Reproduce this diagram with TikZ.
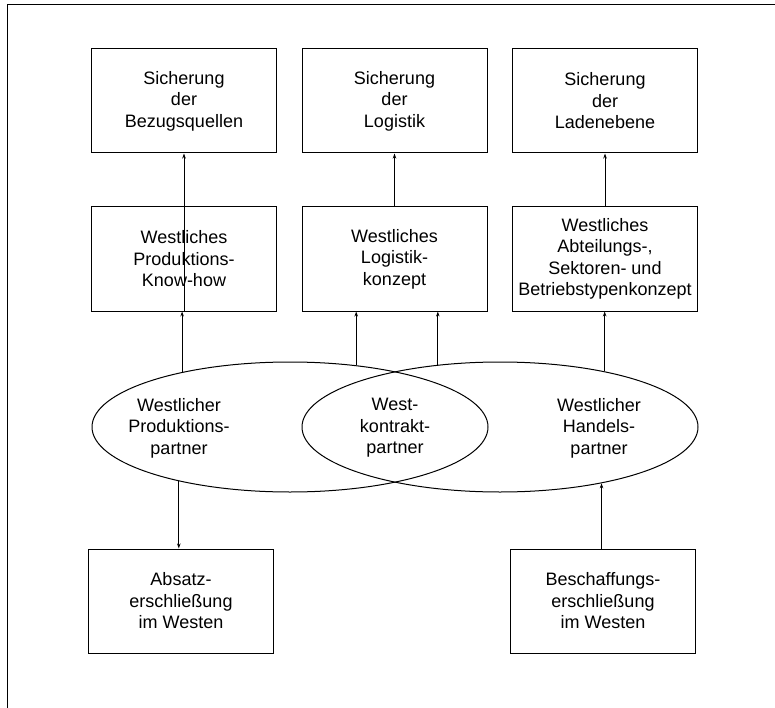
\documentclass[tikz,border=0pt]{standalone}
\usepackage{fontspec}
\setmainfont{Liberation Sans}
\usetikzlibrary{shapes,shapes.geometric,arrows.meta}

\begin{document}
\begin{tikzpicture}[x=1pt,y=-1pt]
				\tikzstyle{every node}=[font=\fontsize{18}{21.5}\selectfont, align=center]
				\tikzstyle{bbox}=[rectangle, draw, line width=1pt, minimum width=185, minimum height=104, inner sep=0]
				\tikzstyle{ell}=[ellipse, draw, line width=1pt, minimum width=396, minimum height=130, inner sep=0]
				\tikzstyle{pfeil}=[line width=0.9pt, -{Stealth[length=5pt,width=3.5pt]}]
				\useasboundingbox (0,0) rectangle (775,708);
				\draw[line width=1pt] (775,5) -- (7,5) -- (7,708);
				% obere Reihe
				\node[bbox] (bezug) at (184,101) {Sicherung\\der\\Bezugsquellen};
				\node[bbox] (logistik) at (394.5,101) {Sicherung\\der\\Logistik};
				\node[bbox] (laden) at (605,101) {Sicherung\\der\\Ladenebene};
				% mittlere Reihe
				\node[bbox] (knowhow) at (184,259) {Westliches\\Produktions-\\Know-how};
				\node[bbox] (lkonzept) at (394.5,259) {Westliches\\Logistik-\\konzept};
				\node[bbox] (btkonzept) at (605,259) {Westliches\\Abteilungs-,\\Sektoren- und\\Betriebstypenkonzept};
				% Partner
				\node[ell] (prod) at (290,427) {};
				\node[ell] (handel) at (500,427) {};
				\node (prodtxt) at (179,428) {Westlicher\\Produktions-\\partner};
				\node (kontrakt) at (395,428) {West-\\kontrakt-\\partner};
				\node (handeltxt) at (599,428) {Westlicher\\Handels-\\partner};
				% untere Reihe
				\node[bbox] (absatz) at (181,601) {Absatz-\\erschlie{\ss}ung\\im Westen};
				\node[bbox] (beschaff) at (603,601) {Beschaffungs-\\erschlie{\ss}ung\\im Westen};
				% Pfeile
				\draw[pfeil] (knowhow.south -| bezug.south) -- (bezug.south);
				\draw[pfeil] (lkonzept.north) -- (logistik.south);
				\draw[pfeil] (btkonzept.north) -- (laden.south);
				\draw[pfeil] (prod.153.5) -- (prod.153.5 |- knowhow.south);
				\draw[pfeil] (prod.43.9) -- (prod.43.9 |- lkonzept.south);
				\draw[pfeil] (handel.135.1) -- (handel.135.1 |- lkonzept.south);
				\draw[pfeil] (handel.28.3) -- (handel.28.3 |- btkonzept.south);
				\draw[pfeil] (prod.206.5) -- (prod.206.5 |- absatz.north);
				\draw[pfeil] (beschaff.north -| handel.331.7) -- (handel.331.7);
			\end{tikzpicture}
\end{document}
